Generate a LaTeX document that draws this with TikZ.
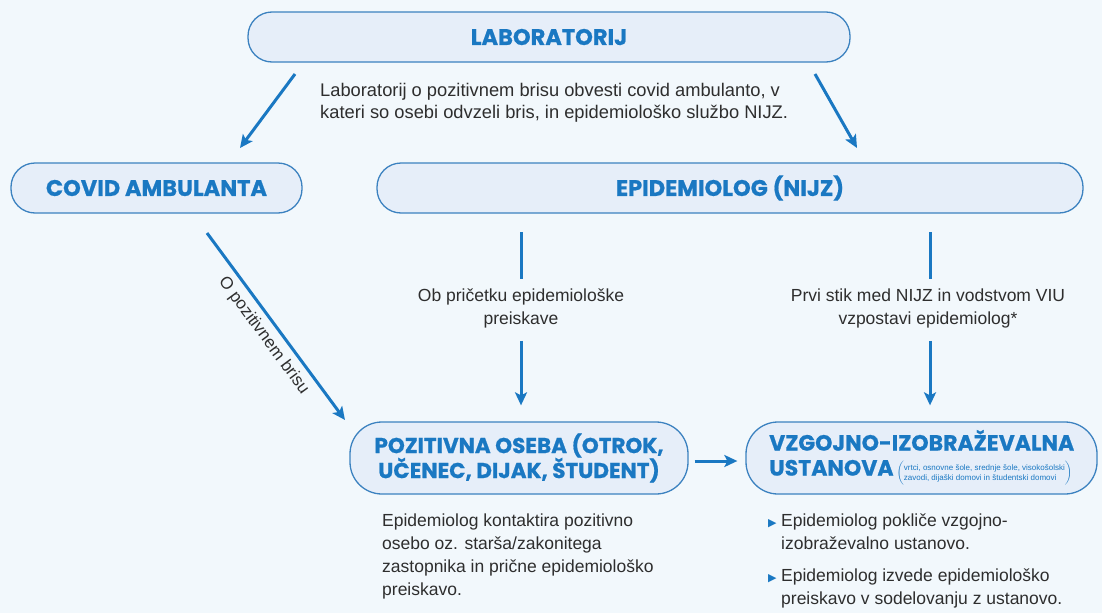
\documentclass[tikz,border=0pt]{standalone}
\usepackage{fontspec}
\setmainfont{Liberation Sans}
\newfontfamily\titlefont{Poppins}[BoldFeatures={FakeBold=0.8}]
\newfontfamily\symfont{DejaVu Sans}
\usetikzlibrary{arrows.meta,calc}
\definecolor{bgc}{HTML}{F2F8FC}
\definecolor{boxfill}{HTML}{E6EEF9}
\definecolor{boxline}{HTML}{3C82C0}
\definecolor{tblue}{HTML}{1A78C2}
\definecolor{body}{HTML}{2E2E2E}
\tikzset{
  box/.style={draw=boxline, line width=1.3pt, fill=boxfill, rounded corners=24pt,
    inner sep=0pt, text=tblue, font=\titlefont\bfseries\fontsize{22.5}{24}\selectfont},
  bigbox/.style={box, rounded corners=32pt},
  conn/.style={draw=tblue, line width=3pt},
  arr/.style={conn, -{Stealth[length=13pt,width=12pt,inset=3pt]}},
  txt/.style={text=body, font=\fontsize{17.5}{23}\selectfont, inner sep=0pt},
}
\newcommand{\bul}{\makebox[13pt][l]{\textcolor{tblue}{\symfont\fontsize{11}{12}\selectfont ▶}}}
\begin{document}
\begin{tikzpicture}[x=1pt,y=-1pt]
\useasboundingbox (0,0) rectangle (1102,613);
\fill[bgc] (0,0) rectangle (1102,613);

% boxes
\node[box, minimum width=602pt, minimum height=50pt] (lab) at (549,37) {LABORATORIJ};
\node[box, minimum width=291pt, minimum height=50pt] (covid) at (156.5,188) {COVID AMBULANTA};
\node[box, minimum width=706pt, minimum height=50pt] (epi) at (730,188) {EPIDEMIOLOG (NIJZ)};
\node[bigbox, minimum width=338pt, minimum height=72pt, align=center,
  font=\titlefont\bfseries\fontsize{21.5}{25}\selectfont] (poz) at (519,458)
  {POZITIVNA OSEBA (OTROK,\\UČENEC, DIJAK, ŠTUDENT)};
\node[bigbox, minimum width=351pt, minimum height=72pt] (vzg) at (921.5,458) {};
\node[anchor=west, inner sep=0pt, text=tblue, align=left,
  font=\titlefont\bfseries\fontsize{22}{25}\selectfont] (vzgt) at (769,458)
  {VZGOJNO-IZOBRAŽEVALNA\\USTANOVA\hspace{3pt}{\fontsize{8}{9.3}\selectfont\mdseries\rmfamily
  $\left(\vcenter{\hbox{\rule{0pt}{25pt}}}\vcenter{\hbox{\begin{tabular}{@{}l@{}}vrtci, osnovne šole, srednje šole, visokošolski\\zavodi, dijaški domovi in študentski domovi\end{tabular}}}\right)$}};

% labels
\node[txt, anchor=west, align=left, font=\fontsize{18.3}{22.5}\selectfont] (labt) at (320,103)
  {Laboratorij o pozitivnem brisu obvesti covid ambulanto, v\\kateri so osebi odvzeli bris, in epidemiološko službo NIJZ.};
\node[txt, align=center] (l1) at (521,308) {Ob pričetku epidemiološke\\preiskave};
\node[txt, align=center] (l2) at (928,308) {Prvi stik med NIJZ in vodstvom VIU\\vzpostavi epidemiolog*};

\node[txt, anchor=north west, align=left] (pozt) at (382,514)
  {Epidemiolog kontaktira pozitivno\\osebo oz. starša/zakonitega\\zastopnika in prične epidemiološko\\preiskavo.};
\node[txt, anchor=north west, align=left] (vzgl) at (768,514)
  {\bul Epidemiolog pokliče vzgojno-\\\hspace*{13pt}izobraževalno ustanovo.\\[9pt]
   \bul Epidemiolog izvede epidemiološko\\\hspace*{13pt}preiskavo v sodelovanju z ustanovo.};

% connectors
\coordinate (a1s) at (295,74);
\coordinate (a1e) at (240,148);
\coordinate (a2s) at (815,74);
\coordinate (a2e) at (857,148);
\coordinate (a3s) at (207,233);
\coordinate (a3e) at (345,420);
\coordinate (v1s) at (521,232);
\coordinate (v2s) at (930,232);
\draw[arr] (a1s) -- (a1e);
\draw[arr] (a2s) -- (a2e);
\draw[arr] (a3s) -- node[midway, sloped, below=6pt, txt, font=\fontsize{17}{19}\selectfont] {O pozitivnem brisu} (a3e);
\draw[conn] (v1s) -- ($(v1s |- l1.north)+(0,-9)$);
\draw[arr] ($(v1s |- l1.south)+(0,13)$) -- ($(poz.north -| v1s)+(0,-16)$);
\draw[conn] (v2s) -- ($(v2s |- l2.north)+(0,-9)$);
\draw[arr] ($(v2s |- l2.south)+(0,13)$) -- ($(vzg.north -| v2s)+(0,-16)$);
\draw[arr] ($(poz.east)+(6,3)$) -- ($(vzg.west)+(-8,3)$);
\end{tikzpicture}
\end{document}
